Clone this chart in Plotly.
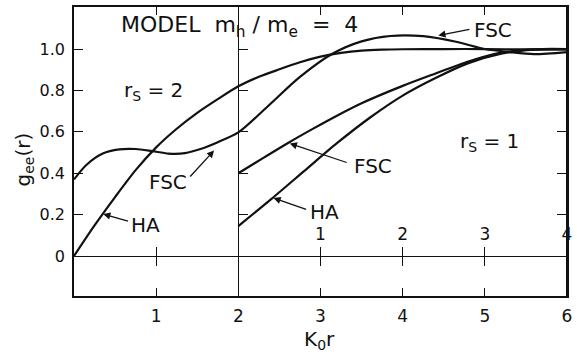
import plotly.graph_objects as go

# ---- data (K0 r, g_ee(r)) ----
# r_s = 2 curves, bottom axis units (0..6)
ha_rs2_x = [0, 0.25, 0.5, 0.75, 1.0, 1.25, 1.5, 1.75, 2.0, 2.25, 2.5, 2.75, 3.0, 3.25, 3.5, 3.75, 4.0, 4.5, 5.0, 5.5, 6.0]
ha_rs2_y = [0, 0.148, 0.285, 0.415, 0.525, 0.615, 0.692, 0.758, 0.82, 0.866, 0.902, 0.936, 0.963, 0.981, 0.992, 0.997, 0.999, 1.0, 1.0, 0.998, 0.998]

fsc_rs2_x = [0, 0.15, 0.35, 0.55, 0.75, 0.95, 1.15, 1.35, 1.55, 1.75, 2.0, 2.35, 2.75, 3.15, 3.5, 3.85, 4.25, 4.65, 5.0, 5.3, 5.6, 6.0]
fsc_rs2_y = [0.37, 0.44, 0.495, 0.515, 0.517, 0.507, 0.495, 0.497, 0.518, 0.55, 0.597, 0.72, 0.865, 0.978, 1.037, 1.063, 1.062, 1.035, 1.0, 0.985, 0.975, 0.985]

# r_s = 1 curves, upper-scale units (0..4)
ha_rs1_x = [0, 0.4, 0.8, 1.2, 1.6, 2.0, 2.4, 2.8, 3.2, 3.6, 4.0]
ha_rs1_y = [0.145, 0.275, 0.41, 0.545, 0.668, 0.775, 0.86, 0.932, 0.978, 0.997, 1.0]

fsc_rs1_x = [0, 0.3, 0.6, 0.9, 1.2, 1.5, 2.0, 2.4, 2.8, 3.1, 3.4, 3.7, 4.0]
fsc_rs1_y = [0.40, 0.473, 0.545, 0.613, 0.678, 0.738, 0.822, 0.882, 0.94, 0.975, 0.993, 1.0, 1.0]

bottom_ticks = [1, 2, 3, 4, 5, 6]
bottom_labels = ["1", "2", "3", "4", "5", "6"]
upper_ticks = [-1, 1, 2, 3, 4]
upper_labels = ["", "1", "2", "3", "4"]
y_ticks = [0, 0.2, 0.4, 0.6, 0.8, 1.0]
y_labels = ["0", "0.2", "0.4", "0.6", "0.8", "1.0"]

# ---- layout helpers ----
W, H = 577, 354
L, R, T, B = 74, 5, 7, 58
YMIN, YMAX = -0.193, 1.203
FONT = "DejaVu Sans"
INK = "#111111"

def X(px):
    return (px - L) / (W - L - R) * 6.0

def Y(py):
    return YMAX - (py - T) / (H - T - B) * (YMAX - YMIN)

def PX(px):
    return (px - L) / (W - L - R)

def PY(py):
    return (H - B - py) / (H - T - B)

zero_pos = (0 - YMIN) / (YMAX - YMIN)

fig = go.Figure()
line = dict(color=INK, width=2.2, shape="spline", smoothing=0.8)
fig.add_trace(go.Scatter(x=ha_rs2_x, y=ha_rs2_y, mode="lines", line=line, xaxis="x", yaxis="y", name="HA r_s=2"))
fig.add_trace(go.Scatter(x=fsc_rs2_x, y=fsc_rs2_y, mode="lines", line=line, xaxis="x", yaxis="y", name="FSC r_s=2"))
fig.add_trace(go.Scatter(x=ha_rs1_x, y=ha_rs1_y, mode="lines", line=line, xaxis="x2", yaxis="y", name="HA r_s=1"))
fig.add_trace(go.Scatter(x=fsc_rs1_x, y=fsc_rs1_y, mode="lines", line=line, xaxis="x2", yaxis="y", name="FSC r_s=1"))

tickfont = dict(family=FONT, size=17, color=INK)
fig.update_layout(
    width=W, height=H,
    margin=dict(l=L, r=R, t=T, b=B, pad=0),
    paper_bgcolor="white", plot_bgcolor="white",
    showlegend=False,
    xaxis=dict(domain=[0, 1], range=[0, 6], showgrid=False, zeroline=False,
               showline=True, linecolor=INK, linewidth=1.5, mirror="ticks",
               ticks="inside", ticklen=8, tickwidth=1.2, tickcolor=INK,
               tickvals=bottom_ticks, ticktext=bottom_labels, tickfont=tickfont,
               ticklabelstandoff=4),
    xaxis2=dict(overlaying="x", anchor="free", position=zero_pos, side="top",
                range=[-2, 4], showgrid=False, zeroline=False, showline=False,
                ticks="outside", ticklen=9, tickwidth=1.2, tickcolor=INK,
                tickvals=upper_ticks, ticktext=upper_labels, tickfont=tickfont,
                ticklabelstandoff=0),
    xaxis3=dict(overlaying="x", anchor="free", position=zero_pos, side="bottom",
                range=[0, 6], showgrid=False, zeroline=False, showline=False,
                ticks="outside", ticklen=9, tickwidth=1.2, tickcolor=INK,
                tickvals=[1, 3, 4, 5], showticklabels=False),
    yaxis=dict(domain=[0, 1], range=[YMIN, YMAX], showgrid=False,
               zeroline=True, zerolinecolor=INK, zerolinewidth=1.3,
               showline=True, linecolor=INK, linewidth=1.5, mirror="ticks",
               ticks="inside", ticklen=9, tickwidth=1.2, tickcolor=INK,
               tickvals=y_ticks, ticktext=y_labels, tickfont=dict(family=FONT, size=16, color=INK),
               ticklabelstandoff=4),
    yaxis2=dict(overlaying="y", anchor="free", position=1/3, side="left",
                range=[YMIN, YMAX], showgrid=False, zeroline=False,
                showline=True, linecolor=INK, linewidth=1.3,
                ticks="inside", ticklen=9, tickwidth=1.2, tickcolor=INK,
                tickvals=[0.2, 0.4, 0.6, 0.8, 1.0], showticklabels=False),
    yaxis3=dict(overlaying="y", anchor="free", position=1, side="right",
                range=[YMIN, YMAX], showgrid=False, zeroline=False,
                showline=True, linecolor=INK, linewidth=1.5,
                ticks="inside", ticklen=9, tickwidth=1.2, tickcolor=INK,
                tickvals=[0.2, 0.4, 0.6, 0.8, 1.0], showticklabels=False),
)
# invisible traces so the helper axes are drawn
fig.add_trace(go.Scatter(x=[0], y=[0], xaxis="x3", yaxis="y2", mode="markers",
                         marker=dict(opacity=0), hoverinfo="skip"))
fig.add_trace(go.Scatter(x=[0], y=[0], xaxis="x", yaxis="y3", mode="markers",
                         marker=dict(opacity=0), hoverinfo="skip"))

big = dict(family=FONT, size=20, color=INK)
texts = [
    ("MODEL  m<sub>h</sub> / m<sub>e</sub>  =  4", 241, 26, 22),
    ("r<sub>S</sub> = 2", 154, 91, 20),
    ("r<sub>S</sub> = 1", 494, 142, 20),
    ("FSC", 497, 30, 20),
    ("FSC", 169, 182, 20),
    ("HA", 146, 225, 20),
    ("FSC", 376, 166, 20),
    ("HA", 327, 212, 20),
]
for t, px, py, fs in texts:
    fig.add_annotation(text=t, x=X(px), y=Y(py), xref="x", yref="y",
                       showarrow=False, font=dict(family=FONT, size=fs, color=INK),
                       xanchor="center", yanchor="middle")

arrows = [
    ((475, 29), (442, 35.5)),
    ((190, 178), (215.5, 150.5)),
    ((130, 221.5), (103.5, 214)),
    ((351, 163), (292, 143.5)),
    ((310, 210), (275.5, 198)),
]
for (tx, ty), (hx, hy) in arrows:
    fig.add_annotation(text="", x=X(hx), y=Y(hy), ax=X(tx), ay=Y(ty),
                       xref="x", yref="y", axref="x", ayref="y",
                       showarrow=True, arrowhead=2, arrowsize=1.1, arrowwidth=1.3,
                       arrowcolor=INK, standoff=0, startstandoff=0)

# axis titles (paper coordinates, outside the plotting area)
fig.add_annotation(text="g<sub>ee</sub>(r)", x=PX(23), y=PY(160), xref="paper", yref="paper",
                   textangle=-90, showarrow=False, font=big,
                   xanchor="center", yanchor="middle")
fig.add_annotation(text="K<sub>0</sub>r", x=PX(322), y=PY(340), xref="paper", yref="paper",
                   showarrow=False, font=big, xanchor="center", yanchor="middle")

fig.write_html("out.html", config={"displayModeBar": False},
               post_script="document.body.style.margin='0';document.body.style.padding='0';")
